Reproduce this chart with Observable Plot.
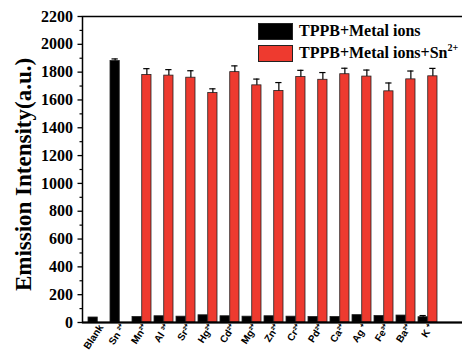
<!DOCTYPE html>
<html>
<head>
<meta charset="utf-8">
<script src="https://cdn.jsdelivr.net/npm/d3@7"></script>
<script src="https://cdn.jsdelivr.net/npm/@observablehq/plot@0.6"></script>
<style>
  body { margin: 0; background: #fff; }
  #wrap { position: relative; width: 462px; height: 350px; overflow: hidden; }
  .legend { position: absolute; left: 258px; top: 20px; font-family: "Liberation Serif", "Times New Roman", serif; font-weight: bold; font-size: 16px; color: #000; }
  .legend .row { display: flex; align-items: center; height: 22px; }
  .legend .sw { width: 35px; height: 17px; box-sizing: border-box; border: 1px solid #222; margin-right: 6px; }
  .legend sup { font-size: 10px; position: relative; top: -1px; }
</style>
</head>
<body>
<div id="wrap"></div>
<script>
// Metal ions tested (tick labels)
const ions = ["Blank", "Sn \u00b2\u207a", "Mn\u00b2\u207a", "Al \u00b3\u207a", "Sr\u00b2\u207a", "Hg\u00b2\u207a", "Cd\u00b2\u207a", "Mg\u00b2\u207a",
  "Zn\u00b2\u207a", "Cr\u00b2\u207a", "Pd\u00b2\u207a", "Ca\u00b2\u207a", "Ag \u207a", "Fe\u00b3\u207a", "Ba\u00b2\u207a", "K \u207a"];
// TPPB + metal ion
const baseValues = [36, 1880, 40, 45, 42, 52, 45, 42, 45, 42, 40, 40, 53, 47, 50, 38];
const baseErrors = [0, 15, 0, 0, 0, 0, 0, 0, 0, 0, 0, 0, 0, 0, 0, 12];
// TPPB + metal ion + Sn2+
const snValues = [null, null, 1780, 1775, 1760, 1650, 1800, 1705, 1665, 1765, 1745, 1785, 1768, 1662, 1748, 1770];
const snErrors = [null, null, 45, 43, 50, 30, 45, 45, 60, 48, 52, 43, 47, 60, 60, 57];
const yTicks = [0, 200, 400, 600, 800, 1000, 1200, 1400, 1600, 1800, 2000, 2200];
const yMinor = [100, 300, 500, 700, 900, 1100, 1300, 1500, 1700, 1900, 2100];

const base = ions.map((ion, i) => ({ion, v: baseValues[i], e: baseErrors[i]}));
const withSn = ions.map((ion, i) => ({ion, v: snValues[i], e: snErrors[i]})).filter(d => d.v != null);

const xRange = [82, 443];
const pad = 0.13;
const step = (xRange[1] - xRange[0]) / (ions.length - pad + 2 * pad);
const bw = step * (1 - pad);
const half = bw / 2;

const red = "#ee3a2f";
const serif = "Liberation Serif, Times New Roman, serif";

const chart = Plot.plot({
  width: 462,
  height: 350,
  marginLeft: 82,
  marginRight: 0,
  marginTop: 16,
  marginBottom: 28,
  x: {domain: ions, range: xRange, paddingInner: pad, paddingOuter: pad, axis: null},
  y: {domain: [0, 2200]},
  marks: [
    Plot.barY(base, {x: "ion", y: "v", fill: "#000", stroke: "#222", strokeWidth: 0.8, insetLeft: 0, insetRight: half}),
    Plot.barY(withSn, {x: "ion", y: "v", fill: red, stroke: "#222", strokeWidth: 0.8, insetLeft: half, insetRight: 0}),
    Plot.ruleX(base.filter(d => d.e > 0), {x: "ion", y1: "v", y2: d => d.v + d.e, dx: -half / 2, stroke: "#000", strokeWidth: 1.2}),
    Plot.tickY(base.filter(d => d.e > 0), {x: "ion", y: d => d.v + d.e, insetLeft: 1.5, insetRight: half + 1.5, stroke: "#000", strokeWidth: 1.2}),
    Plot.ruleX(withSn, {x: "ion", y1: "v", y2: d => d.v + d.e, dx: half / 2, stroke: "#000", strokeWidth: 1.2}),
    Plot.tickY(withSn, {x: "ion", y: d => d.v + d.e, insetLeft: half + 1.5, insetRight: 1.5, stroke: "#000", strokeWidth: 1.2}),
    Plot.frame({stroke: "#000", strokeWidth: 1.5, insetRight: -5}),
    Plot.ruleY([0], {stroke: "#000", strokeWidth: 2}),
    Plot.axisY({ticks: yTicks, tickSize: 4.5, tickPadding: 5, tickFormat: d => String(d), label: null,
      fontSize: 16, fontWeight: "bold", fontFamily: serif, stroke: "#000", strokeWidth: 1.3, color: "#000"}),
    Plot.axisY({ticks: yMinor, tickSize: 2.5, tickFormat: () => "", label: null, strokeWidth: 1.2}),
    // rotated ion labels under each group
    Plot.text(ions, {x: d => d, y: 0, dy: 3, dx: 3, rotate: -57, textAnchor: "end", lineAnchor: "middle",
      text: d => d, fontSize: 10, fontWeight: 600, fontFamily: "Liberation Sans, Arial, sans-serif", fill: "#000"}),
    Plot.text(["Emission Intensity(a.u.)"], {frameAnchor: "left", dx: -59, dy: 5, rotate: -90, textAnchor: "middle", text: d => d,
      fontSize: 23, fontWeight: "bold", fontFamily: serif, fill: "#000"})
  ]
});

const wrap = document.getElementById("wrap");
wrap.appendChild(chart);

const legend = document.createElement("div");
legend.className = "legend";
legend.innerHTML = `
  <div class="row"><div class="sw" style="background:#000"></div><span>TPPB+Metal ions</span></div>
  <div class="row"><div class="sw" style="background:${red}"></div><span>TPPB+Metal ions+Sn<sup>2+</sup></span></div>`;
wrap.appendChild(legend);
</script>
</body>
</html>
